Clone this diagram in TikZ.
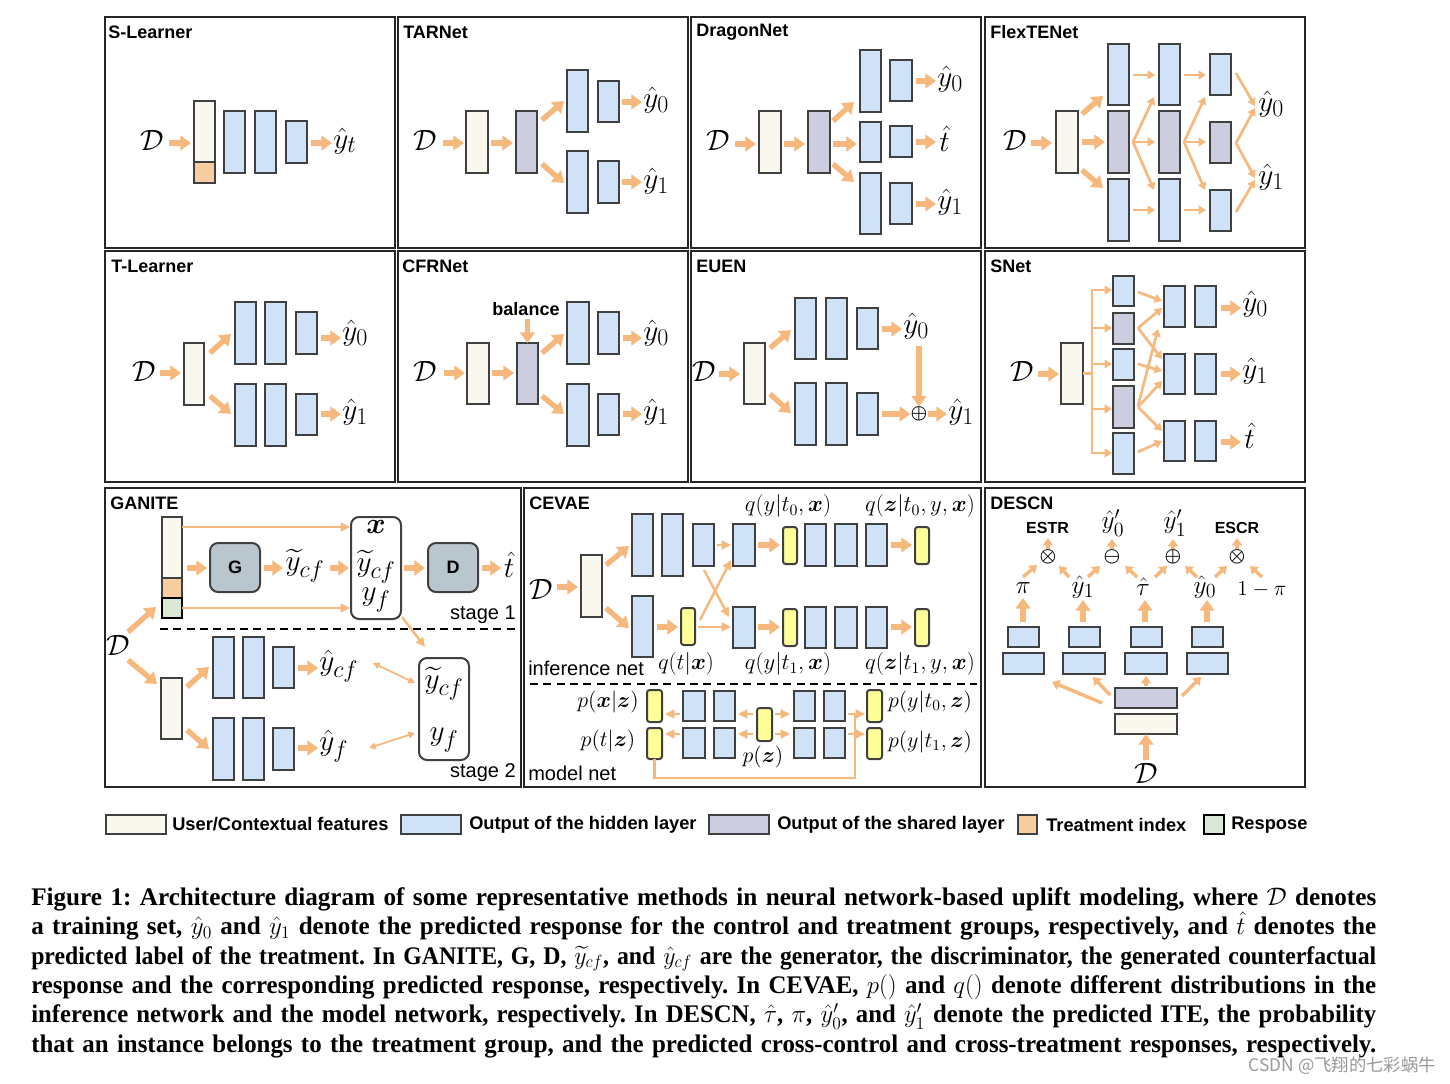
\RequirePackage{fix-cm}
\documentclass[tikz,border=0pt]{standalone}
\usepackage{amsmath,amssymb,bm}
\usepackage{graphicx}
\usepackage{fontspec}
\setmainfont{Liberation Serif}
\setsansfont{Liberation Sans}
\newfontfamily\capfont{Liberation Serif}
\newfontfamily\cjkfont{Noto Sans CJK SC}
\usetikzlibrary{arrows.meta,calc}
\definecolor{beige}{RGB}{250,247,238}
\definecolor{hblue}{RGB}{207,226,248}
\definecolor{lav}{RGB}{205,205,224}
\definecolor{tor}{RGB}{248,206,160}
\definecolor{rgreen}{RGB}{216,232,212}
\definecolor{acol}{RGB}{246,184,124}
\definecolor{bdr}{RGB}{64,64,64}
\definecolor{gbox}{RGB}{186,198,206}
\definecolor{yel}{RGB}{255,255,153}
\newcommand\blk[7][]{\node[box,fill=#3,minimum width={(#6-#4)*0.75pt},minimum height={(#7-#5)*0.75pt},#1] (#2) at ({(#4+#6)/2},{(#5+#7)/2}) {};}
\newcommand\sbx[1]{_{\mbox{\fontsize{18}{20}\selectfont$#1$}}}
\newcommand\sbs[1]{_{\mbox{\fontsize{15}{18}\selectfont$#1$}}}
\newlength\capw \setlength\capw{1008.75pt}
\newsavebox\capbox
\newcommand\capline[1]{\sbox\capbox{#1}\ifdim\wd\capbox>\capw\resizebox{\capw}{\height}{\usebox\capbox}\else\makebox[\capw][s]{#1}\fi}
\frenchspacing
\tikzset{
 box/.style={draw=bdr, line width=1.5pt, inner sep=0pt, outer sep=0pt},
 ta/.style={draw=acol, line width=4pt, -{Triangle[length=8pt,width=11pt]}},
 tn/.style={draw=acol, line width=2pt, -{Triangle[length=5.5pt,width=6.5pt]}},
 tm/.style={draw=acol, line width=2.6pt, -{Triangle[length=5.5pt,width=7.5pt]}},
 tg/.style={draw=acol, line width=1.8pt, -{Triangle[length=7pt,width=6.5pt]}},
 tgd/.style={draw=acol, line width=1.3pt, {Triangle[length=5pt,width=5pt]}-{Triangle[length=5pt,width=5pt]}},
 panel/.style={draw=black!85, line width=1.9pt},
 ttl/.style={font=\sffamily\bfseries\fontsize{13.5}{15}\selectfont, anchor=west, inner sep=0pt},
 ml/.style={font=\fontsize{22}{26}\selectfont, inner sep=0pt},
 mc/.style={font=\fontsize{16.5}{20}\selectfont, inner sep=0pt},
 md/.style={font=\fontsize{17}{20}\selectfont, inner sep=0pt},
 me/.style={font=\fontsize{19}{22}\selectfont, inner sep=0pt},
 op/.style={font=\fontsize{14}{16}\selectfont, inner sep=0pt},
 sl/.style={font=\sffamily\fontsize{15}{18}\selectfont, inner sep=0pt},
 lg/.style={font=\sffamily\bfseries\fontsize{13.7}{16}\selectfont, anchor=west, inner sep=0pt},
 capt/.style={anchor=north west, inner sep=0pt, text width=1008.75pt, font=\capfont\bfseries\fontsize{19}{22.1}\selectfont},
}
\begin{document}
\begin{tikzpicture}[x=0.75pt,y=-0.75pt]
\useasboundingbox (0,0) rectangle (1450,1084);
\fill[white] (0,0) rectangle (1450,1084);
% panels
\draw[panel] (105,17) rectangle (395,248);
\draw[panel] (398,17) rectangle (688,248);
\draw[panel] (691,17) rectangle (981,248);
\draw[panel] (985,17) rectangle (1305,248);
\draw[panel] (105,251) rectangle (395,482);
\draw[panel] (398,251) rectangle (688,482);
\draw[panel] (691,251) rectangle (981,482);
\draw[panel] (985,251) rectangle (1305,482);
\draw[panel] (105,488) rectangle (521,787);
\draw[panel] (524,488) rectangle (981,787);
\draw[panel] (985,488) rectangle (1305,787);
% titles
\node[ttl] (tS) at (108,32) {S-Learner};
\node[ttl] (tT) at (403,32) {TARNet};
\node[ttl] (tDr) at (696,32) {DragonNet};
\node[ttl] (tF) at (990,32) {FlexTENet};
\node[ttl] (tTL) at (111,266) {T-Learner};
\node[ttl] (tC) at (402,266) {CFRNet};
\node[ttl] (tE) at (696,266) {EUEN};
\node[ttl] (tSN) at (990,266) {SNet};
\node[ttl] (tG) at (110,503) {GANITE};
\node[ttl] (tCE) at (529,503) {CEVAE};
\node[ttl] (tDE) at (990,503) {DESCN};

% ===== S-Learner
\node[ml] (sD) at (152,140) {$\mathcal{D}$};
\blk{sF}{beige}{194}{101}{215}{162}
\blk{sT}{tor}{194}{162}{215}{183}
\blk{sH1}{hblue}{224}{111}{245}{173}
\blk{sH2}{hblue}{255}{111}{276}{173}
\blk{sH3}{hblue}{286}{121}{307}{163}
\node[ml,anchor=west] (sy) at (333,141) {$\hat{y}\sbx{t}$};
\draw[ta] (169,143) -- (191,143);
\draw[ta] (311,143) -- (332,143);

% ===== TARNet
\node[ml] (aD) at (425,140) {$\mathcal{D}$};
\blk{aF}{beige}{466}{111}{488}{173}
\blk{aS}{lav}{516}{111}{537}{173}
\blk{aH1}{hblue}{567}{70}{588}{132}
\blk{aH2}{hblue}{598}{81}{619}{122}
\blk{aH3}{hblue}{567}{151}{588}{213}
\blk{aH4}{hblue}{598}{161}{619}{203}
\node[ml,anchor=west] (ay0) at (643,100) {$\hat{y}\sbx{0}$};
\node[ml,anchor=west] (ay1) at (643,181) {$\hat{y}\sbx{1}$};
\draw[ta] (443,143) -- (464,143);
\draw[ta] (491,143) -- (513,143);
\draw[ta] (542,120) -- (564,101);
\draw[ta] (542,164) -- (564,183);
\draw[ta] (622,102) -- (642,102);
\draw[ta] (622,182) -- (642,182);

% ===== DragonNet
\node[ml] (dD) at (718,140) {$\mathcal{D}$};
\blk{dF}{beige}{759}{111}{781}{173}
\blk{dS}{lav}{808}{111}{830}{173}
\blk{dH1}{hblue}{860}{50}{881}{112}
\blk{dH2}{hblue}{860}{122}{881}{162}
\blk{dH3}{hblue}{860}{173}{881}{234}
\blk{dH4}{hblue}{890}{60}{912}{101}
\blk{dH5}{hblue}{890}{126}{912}{157}
\blk{dH6}{hblue}{890}{183}{912}{224}
\node[ml,anchor=west] (dy0) at (937,79) {$\hat{y}\sbx{0}$};
\node[ml,anchor=west] (dt) at (939,139) {$\hat{t}$};
\node[ml,anchor=west] (dy1) at (937,202) {$\hat{y}\sbx{1}$};
\draw[ta] (735,144) -- (756,144);
\draw[ta] (784,144) -- (805,144);
\draw[ta] (833,121) -- (854,102);
\draw[ta] (833,144) -- (857,144);
\draw[ta] (833,164) -- (854,182);
\draw[ta] (916,81) -- (936,81);
\draw[ta] (916,142) -- (936,142);
\draw[ta] (916,204) -- (936,204);

% ===== FlexTENet
\node[ml] (fD) at (1015,140) {$\mathcal{D}$};
\blk{fF}{beige}{1056}{111}{1078}{173}
\blk{fA1}{hblue}{1108}{44}{1129}{105}
\blk{fA2}{lav}{1108}{111}{1129}{173}
\blk{fA3}{hblue}{1108}{179}{1129}{241}
\blk{fB1}{hblue}{1159}{44}{1180}{105}
\blk{fB2}{lav}{1159}{111}{1180}{173}
\blk{fB3}{hblue}{1159}{179}{1180}{241}
\blk{fC1}{hblue}{1210}{54}{1231}{95}
\blk{fC2}{lav}{1210}{122}{1231}{163}
\blk{fC3}{hblue}{1210}{190}{1231}{231}
\node[ml,anchor=west] (fy0) at (1258,104) {$\hat{y}\sbx{0}$};
\node[ml,anchor=west] (fy1) at (1258,177) {$\hat{y}\sbx{1}$};
\draw[ta] (1031,143) -- (1052,143);
\draw[ta] (1082,114) -- (1103,96);
\draw[ta] (1082,142) -- (1105,142);
\draw[ta] (1082,170) -- (1103,188);
\foreach \xa/\xb in {1133/1155,1184/1206}{
 \draw[tn] (\xa,75) -- (\xb,75);
 \draw[tn] (\xa,142) -- (\xb,142);
 \draw[tn] (\xa,210) -- (\xb,210);
 \draw[tn] (\xa,142) -- (\xb-1,97);
 \draw[tn] (\xa,142) -- (\xb-1,190);
}
\draw[tn] (1236,73) -- (1255,106);
\draw[tn] (1236,143) -- (1255,108);
\draw[tn] (1236,143) -- (1255,178);
\draw[tn] (1236,212) -- (1255,180);

% ===== T-Learner
\node[ml] (lD) at (144,371) {$\mathcal{D}$};
\blk{lF}{beige}{184}{343}{204}{405}
\blk{lH1}{hblue}{235}{302}{256}{364}
\blk{lH2}{hblue}{265}{302}{286}{364}
\blk{lH3}{hblue}{296}{312}{317}{354}
\blk{lH4}{hblue}{235}{384}{256}{446}
\blk{lH5}{hblue}{265}{384}{286}{446}
\blk{lH6}{hblue}{296}{394}{317}{435}
\node[ml,anchor=west] (ly0) at (342,333) {$\hat{y}\sbx{0}$};
\node[ml,anchor=west] (ly1) at (342,412) {$\hat{y}\sbx{1}$};
\draw[ta] (160,373) -- (181,373);
\draw[ta] (210,353) -- (231,334);
\draw[ta] (210,396) -- (231,414);
\draw[ta] (321,338) -- (341,338);
\draw[ta] (321,414) -- (341,414);

% ===== CFRNet
\node[ml] (cD) at (425,371) {$\mathcal{D}$};
\blk{cF}{beige}{467}{343}{489}{404}
\blk{cS}{lav}{517}{343}{538}{404}
\blk{cH1}{hblue}{567}{302}{589}{364}
\blk{cH2}{hblue}{598}{312}{619}{354}
\blk{cH3}{hblue}{567}{384}{589}{446}
\blk{cH4}{hblue}{598}{394}{619}{435}
\node[font=\sffamily\bfseries\fontsize{13.5}{15}\selectfont, inner sep=0pt] (cbal) at (526,309) {balance};
\node[ml,anchor=west] (cy0) at (643,333) {$\hat{y}\sbx{0}$};
\node[ml,anchor=west] (cy1) at (643,412) {$\hat{y}\sbx{1}$};
\draw[ta] (444,373) -- (465,373);
\draw[ta] (492,373) -- (514,373);
\draw[ta] (527.5,319) -- (cS.north);
\draw[ta] (542,353) -- (564,334);
\draw[ta] (542,396) -- (564,414);
\draw[ta] (623,338) -- (642,338);
\draw[ta] (623,414) -- (642,414);

% ===== EUEN
\node[ml] (eD) at (704,371) {$\mathcal{D}$};
\blk{eF}{beige}{744}{343}{765}{404}
\blk{eH1}{hblue}{795}{298}{816}{359}
\blk{eH2}{hblue}{826}{298}{847}{359}
\blk{eH3}{hblue}{857}{308}{878}{349}
\blk{eH4}{hblue}{795}{383}{816}{445}
\blk{eH5}{hblue}{826}{383}{847}{445}
\blk{eH6}{hblue}{857}{393}{878}{435}
\node[ml,anchor=west] (ey0) at (903,326) {$\hat{y}\sbx{0}$};
\node[op] (eop) at (919,414) {$\boldsymbol{\oplus}$};
\node[ml,anchor=west] (ey1) at (948,412) {$\hat{y}\sbx{1}$};
\draw[ta] (719,374) -- (740,374);
\draw[ta] (770,348) -- (791,330);
\draw[ta] (770,394) -- (791,413);
\draw[ta] (882,329) -- (902,329);
\draw[ta] (919,346) -- (eop.north);
\draw[ta] (882,414) -- (eop.west);
\draw[ta] (eop.east) -- (947,414);

% ===== SNet
\node[ml] (nD) at (1022,371) {$\mathcal{D}$};
\blk{nF}{beige}{1061}{343}{1083}{404}
\blk{nB1}{hblue}{1113}{276}{1134}{306}
\blk{nB2}{lav}{1113}{313}{1134}{344}
\blk{nB3}{hblue}{1113}{349}{1134}{380}
\blk{nB4}{lav}{1113}{386}{1134}{428}
\blk{nB5}{hblue}{1113}{433}{1134}{474}
\blk{nO1}{hblue}{1164}{286}{1185}{327}
\blk{nO2}{hblue}{1195}{286}{1216}{327}
\blk{nO3}{hblue}{1164}{354}{1185}{394}
\blk{nO4}{hblue}{1195}{354}{1216}{394}
\blk{nO5}{hblue}{1164}{421}{1185}{461}
\blk{nO6}{hblue}{1195}{421}{1216}{461}
\node[ml,anchor=west] (ny0) at (1242,304) {$\hat{y}\sbx{0}$};
\node[ml,anchor=west] (ny1) at (1242,371) {$\hat{y}\sbx{1}$};
\node[ml,anchor=west] (nt) at (1244,436) {$\hat{t}$};
\draw[ta] (1038,374) -- (1059,374);
\draw[draw=acol,line width=2.2pt] (nF.east) -- (1092,373.5);
\draw[draw=acol,line width=2.2pt] (1092,290) -- (1092,453);
\foreach \yy in {290,328,364,409,453}{\draw[tn] (1091,\yy) -- (1112,\yy);}
\draw[tn] (1138,292) -- (1162,301);
\draw[tn] (1138,328) -- (1162,308);
\draw[tn] (1138,328) -- (1162,359);
\draw[tn] (1138,364) -- (1162,371);
\draw[tn] (1138,406) -- (1158,329);
\draw[tn] (1138,407) -- (1162,381);
\draw[tn] (1138,407) -- (1162,431);
\draw[tn] (1138,452) -- (1162,441);
\draw[ta] (1221,308) -- (1241,308);
\draw[ta] (1221,374) -- (1241,374);
\draw[ta] (1221,442) -- (1241,442);

% ===== GANITE
\blk{gF}{beige}{162}{517}{182}{578}
\blk{gT}{tor}{162}{578}{182}{598}
\blk[draw=black]{gR}{rgreen}{162}{598}{182}{618}
\blk[rounded corners=6pt]{gG}{gbox}{210}{543}{260}{592}
\node[font=\sffamily\bfseries\fontsize{13.5}{15}\selectfont] (gGt) at (gG) {G};
\node[ml] (gyc) at (305,566) {$\widetilde{y}\sbx{cf}$};
\blk[rounded corners=6pt]{gX}{white}{351}{517}{401}{619}
\node[ml] (gx1) at (376,527) {$\boldsymbol{x}$};
\node[ml] (gx2) at (376,567) {$\widetilde{y}\sbx{cf}$};
\node[ml] (gx3) at (376,600) {$y\sbx{f}$};
\blk[rounded corners=6pt]{gDb}{gbox}{428}{543}{478}{592}
\node[font=\sffamily\bfseries\fontsize{13.5}{15}\selectfont] (gDt) at (gDb) {D};
\node[ml] (gt) at (509,565) {$\hat{t}$};
\node[sl,anchor=east] (gs1) at (516,615) {stage 1};
\draw[tg] (182,527) -- (350,527);
\draw[tg] (182,608) -- (350,608);
\draw[ta] (187,568) -- (207,568);
\draw[ta] (264,568) -- (283,568);
\draw[ta] (330,568) -- (349,568);
\draw[ta] (404,568) -- (425,568);
\draw[ta] (482,568) -- (501,568);
\draw[black, line width=1.5pt, dash pattern=on 6pt off 4pt] (160,629) -- (518,629);
\node[ml] (gD) at (118,645) {$\mathcal{D}$};
\draw[ta] (128,632) -- (156,607);
\draw[ta] (128,660) -- (157,684);
\blk{gF2}{beige}{161}{678}{182}{739}
\blk{gH1}{hblue}{213}{637}{234}{698}
\blk{gH2}{hblue}{243}{637}{264}{698}
\blk{gH3}{hblue}{273}{647}{294}{688}
\blk{gH4}{hblue}{213}{718}{234}{780}
\blk{gH5}{hblue}{243}{718}{264}{780}
\blk{gH6}{hblue}{273}{728}{294}{770}
\draw[ta] (187,687) -- (209,667);
\draw[ta] (187,730) -- (209,749);
\draw[ta] (298,668) -- (318,668);
\draw[ta] (298,748) -- (318,748);
\node[ml,anchor=west] (gyc2) at (319,666) {$\hat{y}\sbx{cf}$};
\node[ml,anchor=west] (gyf2) at (319,746) {$\hat{y}\sbx{f}$};
\blk[rounded corners=6pt]{gY}{white}{419}{658}{469}{760}
\node[ml] (gy1) at (444,684) {$\widetilde{y}\sbx{cf}$};
\node[ml] (gy2) at (444,740) {$y\sbx{f}$};
\draw[tg] (402,617) -- (425,647);
\draw[tgd] (373,663) -- (415,683);
\draw[tgd] (369,748) -- (415,733);
\node[sl,anchor=east] (gs2) at (516,773) {stage 2};

% ===== CEVAE
\node[ml] (vD) at (541,589) {$\mathcal{D}$};
\draw[ta] (557,587) -- (578,587);
\blk{vF}{beige}{581}{555}{602}{617}
\draw[ta] (606,565) -- (629,546);
\draw[ta] (606,608) -- (629,628);
\blk{vA1}{hblue}{632}{514}{653}{576}
\blk{vA2}{hblue}{662}{514}{683}{576}
\blk{vA3}{hblue}{693}{524}{714}{566}
\blk{vA4}{hblue}{733}{524}{755}{566}
\blk[rounded corners=2pt]{vA5}{yel}{783}{527}{797}{564}
\blk{vA6}{hblue}{805}{524}{826}{566}
\blk{vA7}{hblue}{835}{524}{857}{566}
\blk{vA8}{hblue}{866}{524}{887}{566}
\blk[rounded corners=2pt]{vA9}{yel}{915}{527}{929}{564}
\blk{vB1}{hblue}{632}{596}{653}{657}
\blk[rounded corners=2pt]{vB2}{yel}{681}{608}{695}{645}
\blk{vB4}{hblue}{733}{607}{755}{648}
\blk[rounded corners=2pt]{vB5}{yel}{783}{609}{797}{646}
\blk{vB6}{hblue}{805}{607}{826}{648}
\blk{vB7}{hblue}{835}{607}{857}{648}
\blk{vB8}{hblue}{866}{607}{887}{648}
\blk[rounded corners=2pt]{vB9}{yel}{915}{609}{929}{646}
\draw[tg] (717,545) -- (731,545);
\draw[ta] (758,545) -- (780,545);
\draw[ta] (891,545) -- (912,545);
\draw[ta] (657,627) -- (678,627);
\draw[tg] (698,627) -- (731,627);
\draw[ta] (758,627) -- (780,627);
\draw[ta] (891,627) -- (912,627);
\draw[tg] (704,570) -- (729,617);
\draw[tg] (700,620) -- (731,560);
\node[md] (vq1) at (788,506) {$q(y|t_0,\boldsymbol{x})$};
\node[md] (vq2) at (920,506) {$q(\boldsymbol{z}|t_0,y,\boldsymbol{x})$};
\node[sl,anchor=west] (vinf) at (528,668) {inference net};
\node[md] (vq3) at (686,664) {$q(t|\boldsymbol{x})$};
\node[md] (vq4) at (788,664) {$q(y|t_1,\boldsymbol{x})$};
\node[md] (vq5) at (920,664) {$q(\boldsymbol{z}|t_1,y,\boldsymbol{x})$};
\draw[black, line width=1.5pt, dash pattern=on 6pt off 4pt] (530,684) -- (977,684);
\blk[rounded corners=2pt]{vM1}{yel}{647}{690}{662}{722}
\blk[rounded corners=2pt]{vM2}{yel}{647}{728}{662}{759}
\blk{vM3}{hblue}{683}{691}{705}{721}
\blk{vM4}{hblue}{714}{691}{735}{721}
\blk{vM5}{hblue}{683}{728}{705}{758}
\blk{vM6}{hblue}{714}{728}{735}{758}
\blk[rounded corners=2pt]{vZ}{yel}{757}{708}{772}{741}
\blk{vM7}{hblue}{794}{691}{815}{721}
\blk{vM8}{hblue}{824}{691}{845}{721}
\blk{vM9}{hblue}{794}{728}{815}{758}
\blk{vM10}{hblue}{824}{728}{845}{758}
\blk[rounded corners=2pt]{vR1}{yel}{867}{690}{882}{722}
\blk[rounded corners=2pt]{vR2}{yel}{867}{728}{882}{759}
\draw[tg] (680,714) -- (665,714);
\draw[tg] (680,734) -- (665,734);
\draw[tg] (753,714) -- (738,714);
\draw[tg] (753,734) -- (738,734);
\draw[tg] (775,714) -- (790,714);
\draw[tg] (775,734) -- (790,734);
\draw[draw=acol, line width=2pt] (vM2.south) -- (654.5,778) -- (855,778) -- (855,714);
\draw[tg] (848,714) -- (865,714);
\draw[tg] (848,734) -- (865,734);
\node[mc] (vp1) at (608,702) {$p(\boldsymbol{x}|\boldsymbol{z})$};
\node[mc] (vp2) at (608,741) {$p(t|\boldsymbol{z})$};
\node[mc] (vp3) at (763,757) {$p(\boldsymbol{z})$};
\node[mc] (vp4) at (930,702) {$p(y|t_0,\boldsymbol{z})$};
\node[mc] (vp5) at (930,742) {$p(y|t_1,\boldsymbol{z})$};
\node[sl,anchor=west] (vmod) at (528,773) {model net};

% ===== DESCN
\node[font=\sffamily\bfseries\fontsize{12}{14}\selectfont, inner sep=0pt] (xE1) at (1047.5,528) {ESTR};
\node[me] (xy0p) at (1113,523) {$\hat{y}_{\mbox{\fontsize{15}{18}\selectfont$0$}}'$};
\node[me] (xy1p) at (1175,523) {$\hat{y}_{\mbox{\fontsize{15}{18}\selectfont$1$}}'$};
\node[font=\sffamily\bfseries\fontsize{12}{14}\selectfont, inner sep=0pt] (xE2) at (1237,528) {ESCR};
\node[op] (xo1) at (1048,557) {$\boldsymbol{\otimes}$};
\node[op] (xo2) at (1112,557) {$\boldsymbol{\ominus}$};
\node[op] (xo3) at (1173,557) {$\boldsymbol{\oplus}$};
\node[op] (xo4) at (1237,557) {$\boldsymbol{\otimes}$};
\draw[tm] (1048,549) -- (1048,538);
\draw[tm] (1112,549) -- (1112,539);
\draw[tm] (1173,549) -- (1173,539);
\draw[tm] (1237,549) -- (1237,538);
\node[me] (xpi) at (1023,588) {$\pi$};
\node[me] (xy1) at (1083,587) {$\hat{y}\sbs{1}$};
\node[me] (xtau) at (1143,587) {$\hat{\tau}$};
\node[me] (xy0) at (1205,587) {$\hat{y}\sbs{0}$};
\node[font=\fontsize{16}{19}\selectfont, inner sep=0pt] (xpi1) at (1262,590) {$1-\pi$};
\draw[tm] (1023,577) -- (1037,565);
\draw[tm] (1069,577) -- (1059,566);
\draw[tm] (1088,577) -- (1100,566);
\draw[tm] (1137,577) -- (1125,566);
\draw[tm] (1155,577) -- (1167,566);
\draw[tm] (1197,577) -- (1185,566);
\draw[tm] (1215,577) -- (1227,566);
\draw[tm] (1262,577) -- (1250,566);
\draw[ta] (1023,622) -- (1023,598);
\draw[ta] (1083,622) -- (1083,600);
\draw[ta] (1145,622) -- (1145,600);
\draw[ta] (1207,622) -- (1207,600);
\blk{xS1}{hblue}{1008}{627}{1039}{647}
\blk{xS2}{hblue}{1069}{627}{1100}{647}
\blk{xS3}{hblue}{1131}{627}{1162}{647}
\blk{xS4}{hblue}{1192}{627}{1223}{647}
\blk{xW1}{hblue}{1003}{653}{1044}{674}
\blk{xW2}{hblue}{1063}{653}{1105}{674}
\blk{xW3}{hblue}{1125}{653}{1167}{674}
\blk{xW4}{hblue}{1187}{653}{1228}{674}
\blk{xL}{lav}{1115}{688}{1177}{708}
\blk{xB}{beige}{1115}{714}{1177}{734}
\draw[tm] (1102,703) -- (1052,682);
\draw[tm] (1110,695) -- (1093,677);
\draw[tm] (1146,686) -- (1146,676);
\draw[tm] (1182,696) -- (1201,677);
\node[ml] (xD) at (1146,773) {$\mathcal{D}$};
\draw[ta] (1146,760) -- (xB.south);

% ===== legend
\blk[line width=1.2pt]{k1}{beige}{106}{815}{166}{834}
\node[lg] (k1t) at (172,824) {User/Contextual features};
\blk[line width=1.2pt]{k2}{hblue}{401}{815}{461}{834}
\node[lg] (k2t) at (469,825) {Output of the hidden layer};
\blk[line width=1.2pt]{k3}{lav}{709}{815}{769}{834}
\node[lg] (k3t) at (777,825) {Output of the shared layer};
\blk[line width=1.2pt]{k4}{tor}{1018}{815}{1037}{834}
\node[lg] (k4t) at (1046,825) {Treatment index};
\blk[line width=1.2pt,draw=black]{k5}{rgreen}{1204}{815}{1224}{834}
\node[lg] (k5t) at (1231,825) {Respose};

% ===== caption (one paragraph node, one \capline per printed line)
\node[capt] (cap) at (31,887) {\lineskiplimit=-30pt\lineskip=0pt\relax
\capline{Figure 1: Architecture diagram of some representative methods in neural network-based uplift modeling, where $\mathcal{D}$ denotes}\par
\capline{a training set, $\hat{y}_0$ and $\hat{y}_1$ denote the predicted response for the control and treatment groups, respectively, and $\hat{t}$ denotes the}\par
\capline{predicted label of the treatment. In GANITE, G, D, $\widetilde{y}_{cf}$, and $\hat{y}_{cf}$ are the generator, the discriminator, the generated counterfactual}\par
\capline{response and the corresponding predicted response, respectively. In CEVAE, $p()$ and $q()$ denote different distributions in the}\par
\capline{inference network and the model network, respectively. In DESCN, $\hat{\tau}$, $\pi$, $\hat{y}_0'$, and $\hat{y}_1'$ denote the predicted ITE, the probability}\par
\capline{that an instance belongs to the treatment group, and the predicted cross-control and cross-treatment responses, respectively.}};
\node[anchor=east, inner sep=0pt, text=black!40, font=\cjkfont\fontsize{13}{15}\selectfont] (wm) at (1436,1066) {CSDN @飞翔的七彩蜗牛};
\end{tikzpicture}
\end{document}
